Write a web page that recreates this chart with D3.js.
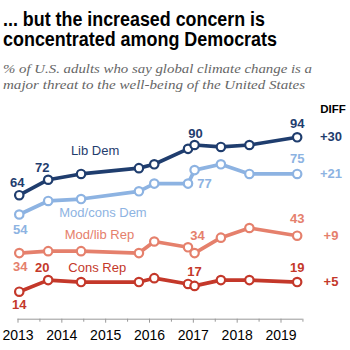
<!DOCTYPE html>
<html>
<head>
	<meta charset="utf-8">
	<title>Climate change concern by party</title>
	<style>
	body { margin: 0; background: #fff; }
	.axis .domain { stroke: #999; }
	.axis line { stroke: #999; }
	.axis text { font-family: "Liberation Sans", Arial, sans-serif; font-size: 14px; fill: #000; }
	</style>
	<script src="https://cdn.jsdelivr.net/npm/d3@7"></script>
</head>
<body>
<svg width="350" height="350"></svg>
<script>

	// survey dates as decimal years
	var dates = [2013.04, 2013.70, 2014.45, 2015.77, 2016.12, 2016.89, 2017.04, 2017.64, 2018.29, 2019.38];

	var seriesNames = ["Lib Dem", "Mod/cons Dem", "Mod/lib Rep", "Cons Rep"];
	var libDem      = [64, 72, 75, 78, 80, 88, 90, 89, 90, 94];
	var modConsDem  = [54, 61, 62, 66, 70, 70, 77, 80, 75, 75];
	var modLibRep   = [34, 35, 35, 34, 40, 37, 34, 42, 47, 43];
	var consRep     = [14, 20, 19, 19, 21, 18, 17, 20, 20, 19];
	var diffs       = ["+30", "+21", "+9", "+5"];

	var yearTicks = [2013, 2014, 2015, 2016, 2017, 2018, 2019];

	// which points get a value label
	var labelled = [[0, 1, 6, 9], [0, 6, 9], [0, 6, 9], [0, 1, 6, 9]];

	var colors = ["#1f3d6e", "#8db3e2", "#e5806c", "#c4382a"];

	var svg = d3.select("svg");

	var x = d3.scaleLinear().domain([2013, 2019.65]).range([17.5, 309]);
	var y = d3.scaleLinear().domain([0, 100]).range([318.7, 125.7]);

	// title + subtitle
	svg.append("text").attr("x", 3).attr("y", 26)
		.attr("font-family", "'Liberation Sans', Arial, sans-serif").attr("font-weight", "bold")
		.attr("font-size", 20).attr("textLength", 262).attr("lengthAdjust", "spacingAndGlyphs")
		.text("... but the increased concern is");
	svg.append("text").attr("x", 3).attr("y", 46)
		.attr("font-family", "'Liberation Sans', Arial, sans-serif").attr("font-weight", "bold")
		.attr("font-size", 20).attr("textLength", 274).attr("lengthAdjust", "spacingAndGlyphs")
		.text("concentrated among Democrats");

	svg.append("text").attr("x", 3).attr("y", 73)
		.attr("font-family", "'Liberation Serif', serif").attr("font-style", "italic")
		.attr("font-size", 13.5).attr("fill", "#666").attr("textLength", 309).attr("lengthAdjust", "spacingAndGlyphs")
		.text("% of U.S. adults who say global climate change is a");
	svg.append("text").attr("x", 3).attr("y", 89)
		.attr("font-family", "'Liberation Serif', serif").attr("font-style", "italic")
		.attr("font-size", 13.5).attr("fill", "#666").attr("textLength", 302).attr("lengthAdjust", "spacingAndGlyphs")
		.text("major threat to the well-being of the United States");

	// x axis, major ticks on years, minor on half years
	var minor = yearTicks.map(function(d) { return d + 0.5; });
	svg.append("g")
		.attr("class", "axis")
		.attr("transform", "translate(0," + y(0) + ")")
		.call(d3.axisBottom(x).tickValues(minor).tickSize(3).tickFormat(""))
		.call(function(g) { g.select(".domain").remove(); });

	var xAxis = svg.append("g")
		.attr("class", "axis")
		.attr("transform", "translate(0," + y(0) + ")")
		.call(d3.axisBottom(x).tickValues(yearTicks).tickSize(4).tickSizeOuter(0).tickPadding(7).tickFormat(d3.format("d")));
	xAxis.select(".domain").attr("d", "M" + x(2013) + ",0.5H" + x(2019.5));

	var allSeries = [libDem, modConsDem, modLibRep, consRep];

	var line = d3.line()
		.x(function(d, i) { return x(dates[i]); })
		.y(function(d) { return y(d); });

	var g = svg.append("g");

	allSeries.forEach(function(vals, s) {
		g.append("path")
			.attr("d", line(vals))
			.attr("fill", "none")
			.attr("stroke", colors[s])
			.attr("stroke-width", 3.7)
			.attr("stroke-linejoin", "round");

		g.selectAll(".dot" + s)
			.data(vals)
			.enter().append("circle")
			.attr("cx", function(d, i) { return x(dates[i]); })
			.attr("cy", function(d) { return y(d); })
			.attr("r", 4.2)
			.attr("fill", "#fff")
			.attr("stroke", colors[s])
			.attr("stroke-width", 2.2);
	});

	// offsets for the value labels [dx, dy] by series and point
	var offs = {
		"0-0": [-2, -8], "0-1": [-6, -8], "0-6": [1, -7], "0-9": [0, -9],
		"1-0": [1, 20], "1-6": [10, 18], "1-9": [0, -11],
		"2-0": [1, 18], "2-6": [3, -13], "2-9": [0, -13],
		"3-0": [0, 17], "3-1": [-6, -8], "3-6": [0, -10], "3-9": [0, -10]
	};

	labelled.forEach(function(idx, s) {
		idx.forEach(function(i) {
			var o = offs[s + "-" + i];
			g.append("text")
				.attr("x", x(dates[i]) + o[0])
				.attr("y", y(allSeries[s][i]) + o[1])
				.attr("text-anchor", "middle")
				.attr("font-family", "'Liberation Sans', Arial, sans-serif")
				.attr("font-weight", "bold")
				.attr("font-size", 13)
				.attr("fill", colors[s])
				.text(allSeries[s][i]);
		});
	});

	// series names, placed at [date, value]
	var namePos = [[2014.77, 84.8], [2014.95, 52.8], [2014.87, 41.3], [2014.82, 24.2]];
	seriesNames.forEach(function(n, s) {
		g.append("text")
			.attr("x", x(namePos[s][0]))
			.attr("y", y(namePos[s][1]))
			.attr("text-anchor", "middle")
			.attr("font-family", "'Liberation Sans', Arial, sans-serif")
			.attr("font-size", 13)
			.attr("fill", colors[s])
			.text(n);
	});

	// diff column
	svg.append("text").attr("x", 333).attr("y", 113)
		.attr("text-anchor", "middle")
		.attr("font-family", "'Liberation Sans', Arial, sans-serif").attr("font-weight", "bold")
		.attr("font-size", 11.5).text("DIFF");

	diffs.forEach(function(d, s) {
		var last = allSeries[s][allSeries[s].length - 1];
		svg.append("text")
			.attr("x", 331)
			.attr("y", y(last) + 4)
			.attr("text-anchor", "middle")
			.attr("font-family", "'Liberation Sans', Arial, sans-serif")
			.attr("font-weight", "bold")
			.attr("font-size", 13)
			.attr("fill", colors[s])
			.text(d);
	});

</script>
</body>
</html>
